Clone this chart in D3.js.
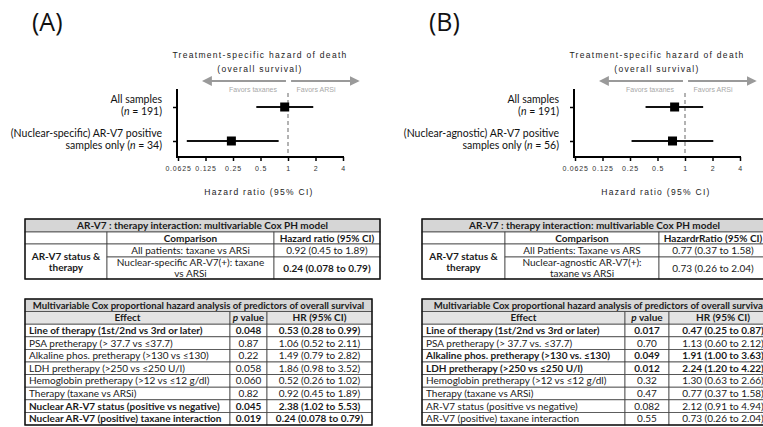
<!DOCTYPE html>
<html>
<head>
<meta charset="utf-8">
<script src="https://cdn.jsdelivr.net/npm/d3@7"></script>
<style>
body { margin: 0; background: #fff; }
svg { display: block; }
</style>
</head>
<body>
<div id="chart"></div>
<script>
// ---- forest plot data ----
var panelLetters = ["(A)", "(B)"];
var hrTicks = [0.0625, 0.125, 0.25, 0.5, 1, 2, 4];
var forestTitle = ["Treatment-specific hazard  of death", "(overall survival)"];
var forestLabelsA = [["All samples", "(n = 191)"], ["(Nuclear-specific) AR-V7 positive", "samples only (n = 34)"]];
var forestLabelsB = [["All samples", "(n = 191)"], ["(Nuclear-agnostic) AR-V7 positive", "samples only (n = 56)"]];
var hrA = [0.92, 0.24], lowA = [0.45, 0.078], highA = [1.89, 0.79];
var hrB = [0.77, 0.73], lowB = [0.37, 0.26], highB = [1.58, 2.04];

// ---- interaction table ----
var interTitle = "AR-V7 : therapy interaction: multivariable Cox PH model";
var interHeadA = ["", "Comparison", "Hazard ratio (95% CI)"];
var interHeadB = ["", "Comparison", "HazardrRatio (95% CI)"];
var interGroup = ["AR-V7 status &", "therapy"];
var interCompA = [["All patients: taxane vs ARSi"], ["Nuclear-specific AR-V7(+):  taxane", "vs ARSi"]];
var interCompB = [["All Patients: Taxane vs ARS"], ["Nuclear-agnostic AR-V7(+):", "taxane vs ARSi"]];
var interHrA = ["0.92 (0.45 to 1.89)", "0.24 (0.078 to 0.79)"];
var interHrB = ["0.77 (0.37 to 1.58)", "0.73 (0.26 to 2.04)"];
var interBoldA = [false, true];
var interBoldB = [false, false];

// ---- multivariable Cox table ----
var coxTitle = "Multivariable Cox proportional hazard analysis of predictors of overall survival";
var coxHead = ["Effect", "p value", "HR (95% CI)"];
var coxEffectA = ["Line of therapy (1st/2nd vs 3rd or later)", "PSA pretherapy (> 37.7 vs \u226437.7)",
  "Alkaline phos. pretherapy (>130 vs \u2264130)", "LDH pretherapy (>250 vs \u2264250 U/l)",
  "Hemoglobin pretherapy (>12 vs \u226412 g/dl)", "Therapy (taxane vs ARSi)",
  "Nuclear AR-V7 status (positive vs negative)", "Nuclear AR-V7 (positive) taxane interaction"];
var coxPA = ["0.048", "0.87", "0.22", "0.058", "0.060", "0.82", "0.045", "0.019"];
var coxHrA = ["0.53 (0.28 to 0.99)", "1.06 (0.52 to 2.11)", "1.49 (0.79 to 2.82)", "1.86 (0.98 to 3.52)",
  "0.52 (0.26 to 1.02)", "0.92 (0.45 to 1.89)", "2.38 (1.02 to 5.53)", "0.24 (0.078 to 0.79)"];
var coxBoldA = [true, false, false, false, false, false, true, true];
var coxEffectB = ["Line of therapy (1st/2nd vs 3rd or later)", "PSA pretherapy (> 37.7 vs. \u226437.7)",
  "Alkaline phos. pretherapy (>130 vs. \u2264130)", "LDH pretherapy (>250 vs \u2264250 U/l)",
  "Hemoglobin pretherapy (>12 vs \u226412 g/dl)", "Therapy (taxane vs ARSi)",
  "AR-V7 status (positive vs negative)", "AR-V7 (positive) taxane interaction"];
var coxPB = ["0.017", "0.70", "0.049", "0.012", "0.32", "0.47", "0.082", "0.55"];
var coxHrB = ["0.47 (0.25 to 0.87)", "1.13 (0.60 to 2.12)", "1.91 (1.00 to 3.63)", "2.24 (1.20 to 4.22)",
  "1.30 (0.63 to 2.66)", "0.77 (0.37 to 1.58)", "2.12 (0.91 to 4.94)", "0.73 (0.26 to 2.04)"];
var coxBoldB = [true, false, true, true, false, false, false, false];

var svg = d3.select("#chart").append("svg").attr("width", 763).attr("height", 427);
var tableFont = "Lato, 'Open Sans', sans-serif";
var plotFont = "'Liberation Sans', Arial, sans-serif";

svg.append("defs").append("marker")
  .attr("id", "arrowhead")
  .attr("viewBox", "0 0 10 10")
  .attr("refX", 8).attr("refY", 5)
  .attr("markerWidth", 5).attr("markerHeight", 5)
  .attr("orient", "auto-start-reverse")
  .append("path").attr("d", "M0,0 L10,5 L0,10 z").attr("fill", "#9a9a9a");

// Write a text line, italicising the "n" or "p" symbols
function addLine(sel, str) {
  var parts = str.split(/(\b[np](?= =| value))/);
  parts.forEach(function(p) {
    if (p === "") return;
    sel.append("tspan").attr("font-style", (p === "n" || p === "p") ? "italic" : null).text(p);
  });
}

// Forest plot for one panel
function forest(dx, letter, labels, hr, low, high) {
  var g = svg.append("g").attr("transform", "translate(" + dx + ",0)");

  var x = d3.scaleLog().base(2).domain([0.0625, 4]).range([178, 343]);
  var y = d3.scalePoint().domain([0, 1]).range([107, 141]);

  g.append("text").attr("x", 32).attr("y", 31)
    .attr("font-family", "'Open Sans', sans-serif").attr("font-size", 25)
    .attr("fill", "#111").text(letter);

  // titles
  forestTitle.forEach(function(t, i) {
    g.append("text").attr("x", 260).attr("y", 58 + i * 14)
      .attr("text-anchor", "middle").attr("font-family", plotFont)
      .attr("font-size", 8.5).attr("letter-spacing", 1.3).attr("fill", "#222").text(t);
  });

  // favors arrows
  g.append("line").attr("x1", x(0.95)).attr("x2", x(0.12)).attr("y1", 81).attr("y2", 81)
    .attr("stroke", "#9a9a9a").attr("stroke-width", 2).attr("marker-end", "url(#arrowhead)");
  g.append("line").attr("x1", x(1.08)).attr("x2", x(5.8)).attr("y1", 81).attr("y2", 81)
    .attr("stroke", "#9a9a9a").attr("stroke-width", 2).attr("marker-end", "url(#arrowhead)");
  g.append("text").attr("x", 253).attr("y", 92).attr("text-anchor", "middle")
    .attr("font-family", plotFont).attr("font-size", 7).attr("fill", "#a8a8a8").text("Favors taxanes");
  g.append("text").attr("x", 316).attr("y", 92).attr("text-anchor", "middle")
    .attr("font-family", plotFont).attr("font-size", 7).attr("fill", "#a8a8a8").text("Favors ARSi");

  // reference line at HR = 1
  g.append("line").attr("x1", x(1)).attr("x2", x(1)).attr("y1", 93).attr("y2", 157)
    .attr("stroke", "#9a9a9a").attr("stroke-width", 1.5).attr("stroke-dasharray", "4,3");

  // axes
  var xAxis = g.append("g").attr("transform", "translate(0,157)")
    .call(d3.axisBottom(x).tickValues(hrTicks).tickSize(4).tickSizeOuter(0)
      .tickFormat(function(d) { return d; }));
  xAxis.select(".domain").attr("stroke-width", 2).attr("d", "M176,0H344");
  xAxis.selectAll(".tick line").attr("stroke-width", 1.5);
  xAxis.selectAll(".tick text").attr("font-family", plotFont).attr("font-size", 7)
    .attr("letter-spacing", 0.8).attr("fill", "#333").attr("dy", "1em");

  var yAxis = g.append("g").attr("transform", "translate(177,0)")
    .call(d3.axisLeft(y).tickSize(4).tickFormat(""));
  yAxis.select(".domain").attr("stroke-width", 2).attr("d", "M0,89V158");
  yAxis.selectAll(".tick line").attr("stroke-width", 1.5);

  g.append("text").attr("x", 259).attr("y", 195).attr("text-anchor", "middle")
    .attr("font-family", plotFont).attr("font-size", 8.5).attr("letter-spacing", 1.3)
    .attr("fill", "#222").text("Hazard ratio (95% CI)");

  // row labels
  labels.forEach(function(lines, i) {
    lines.forEach(function(l, j) {
      var t = g.append("text").attr("x", 162).attr("y", y(i) - 4 + j * 12)
        .attr("text-anchor", "end").attr("font-family", tableFont)
        .attr("font-size", 10.5).attr("fill", "#111");
      addLine(t, l);
    });
  });

  // confidence intervals and estimates
  hr.forEach(function(h, i) {
    g.append("line").attr("x1", x(low[i])).attr("x2", x(high[i]))
      .attr("y1", y(i)).attr("y2", y(i)).attr("stroke", "#111").attr("stroke-width", 2);
    g.append("rect").attr("x", x(h) - 4.5).attr("y", y(i) - 4.5)
      .attr("width", 9).attr("height", 9).attr("fill", "#000");
  });
}

// Generic table cell
function cell(g, x0, y0, w, h, lines, opts) {
  opts = opts || {};
  g.append("rect").attr("x", x0).attr("y", y0).attr("width", w).attr("height", h)
    .attr("fill", opts.fill || "#fff").attr("stroke", "#444").attr("stroke-width", 0.8);
  var lh = 11;
  lines.forEach(function(l, j) {
    var t = g.append("text")
      .attr("x", opts.left ? x0 + 4 : x0 + w / 2)
      .attr("y", y0 + h / 2 + (j - (lines.length - 1) / 2) * lh)
      .attr("dy", "0.35em")
      .attr("text-anchor", opts.left ? "start" : "middle")
      .attr("font-family", tableFont).attr("font-size", opts.size || 10)
      .attr("font-weight", opts.bold ? "bold" : null)
      .attr("fill", "#1a1a1a");
    addLine(t, l);
  });
}

function interTable(x0, cols, head, comp, hrs, bold) {
  var g = svg.append("g");
  var rows = [219, 232, 244, 257, 279];
  var xs = [x0, x0 + cols[0], x0 + cols[0] + cols[1], x0 + cols[0] + cols[1] + cols[2]];
  cell(g, xs[0], rows[0], xs[3] - xs[0], rows[1] - rows[0], [interTitle], {bold: true, fill: "#d6d6d6"});
  head.forEach(function(h, c) {
    cell(g, xs[c], rows[1], xs[c + 1] - xs[c], rows[2] - rows[1], h ? [h] : [], {bold: true});
  });
  cell(g, xs[0], rows[2], xs[1] - xs[0], rows[4] - rows[2], interGroup, {bold: true});
  comp.forEach(function(lines, r) {
    cell(g, xs[1], rows[2 + r], xs[2] - xs[1], rows[3 + r] - rows[2 + r], lines, {});
    cell(g, xs[2], rows[2 + r], xs[3] - xs[2], rows[3 + r] - rows[2 + r], [hrs[r]], {bold: bold[r]});
  });
  g.append("rect").attr("x", xs[0]).attr("y", rows[0]).attr("width", xs[3] - xs[0])
    .attr("height", rows[4] - rows[0]).attr("fill", "none").attr("stroke", "#111").attr("stroke-width", 1.4);
}

function coxTable(x0, cols, effects, ps, hrs, bold) {
  var g = svg.append("g");
  var row = d3.scaleBand().domain(d3.range(10)).range([299, 425]);
  var xs = [x0, x0 + cols[0], x0 + cols[0] + cols[1], x0 + cols[0] + cols[1] + cols[2]];
  var h = row.bandwidth();
  cell(g, xs[0], row(0), xs[3] - xs[0], h, [coxTitle], {bold: true, fill: "#d6d6d6", size: 9.6});
  coxHead.forEach(function(t, c) {
    cell(g, xs[c], row(1), xs[c + 1] - xs[c], h, [t], {bold: true, fill: "#e4e4e4"});
  });
  effects.forEach(function(e, r) {
    cell(g, xs[0], row(r + 2), xs[1] - xs[0], h, [e], {bold: bold[r], left: true});
    cell(g, xs[1], row(r + 2), xs[2] - xs[1], h, [ps[r]], {bold: bold[r]});
    cell(g, xs[2], row(r + 2), xs[3] - xs[2], h, [hrs[r]], {bold: bold[r]});
  });
  g.append("rect").attr("x", xs[0]).attr("y", row(0)).attr("width", xs[3] - xs[0])
    .attr("height", 425 - 299).attr("fill", "none").attr("stroke", "#111").attr("stroke-width", 1.4);
}

forest(0, panelLetters[0], forestLabelsA, hrA, lowA, highA);
forest(397, panelLetters[1], forestLabelsB, hrB, lowB, highB);

interTable(25, [82, 167, 106], interHeadA, interCompA, interHrA, interBoldA);
interTable(422, [83, 154, 108], interHeadB, interCompB, interHrB, interBoldB);

coxTable(25, [205, 37, 105], coxEffectA, coxPA, coxHrA, coxBoldA);
coxTable(422, [203, 44, 108], coxEffectB, coxPB, coxHrB, coxBoldB);
</script>
</body>
</html>
